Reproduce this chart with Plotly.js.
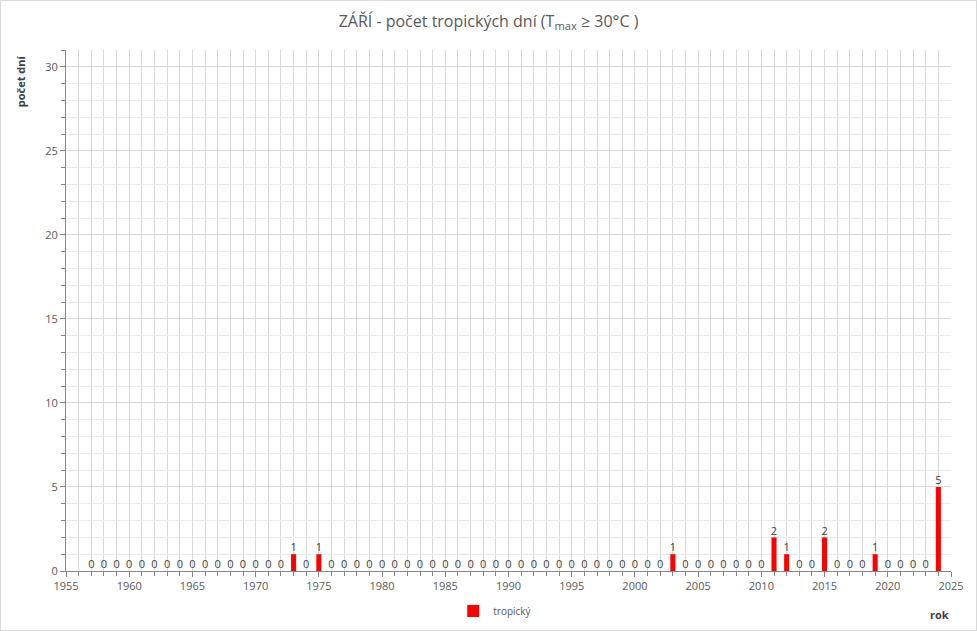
<!DOCTYPE html>
<html>
<head>
<meta charset="utf-8">
<script src="https://cdn.plot.ly/plotly-3.0.1.min.js"></script>
<style>
html,body{margin:0;padding:0;background:#fff;}
#chart{width:977px;height:631px;box-sizing:border-box;border:1px solid #d9d9d9;}
</style>
</head>
<body>
<div id="chart"></div>
<script>
const years = [1957,1958,1959,1960,1961,1962,1963,1964,1965,1966,1967,1968,1969,1970,1971,1972,1973,1974,1975,1976,1977,1978,1979,1980,1981,1982,1983,1984,1985,1986,1987,1988,1989,1990,1991,1992,1993,1994,1995,1996,1997,1998,1999,2000,2001,2002,2003,2004,2005,2006,2007,2008,2009,2010,2011,2012,2013,2014,2015,2016,2017,2018,2019,2020,2021,2022,2023,2024];
const tropicalDays = [0,0,0,0,0,0,0,0,0,0,0,0,0,0,0,0,1,0,1,0,0,0,0,0,0,0,0,0,0,0,0,0,0,0,0,0,0,0,0,0,0,0,0,0,0,0,1,0,0,0,0,0,0,0,2,1,0,0,2,0,0,0,1,0,0,0,0,5];
const seriesName = "tropický";
const titleText = "ZÁŘÍ - počet tropických dní (T<sub>max</sub> ≥ 30°C )";
const yTitle = "počet dní";
const xTitle = "rok";

const fontFam = "'Open Sans', 'Liberation Sans', sans-serif";
const txtCol = "#595959";

const traces = [
  {type:'bar', x:years, y:tropicalDays, name:seriesName, width:0.4,
   marker:{color:'#ff0000'}, hoverinfo:'x+y'},
  {type:'scatter', mode:'text', x:years, y:tropicalDays, text:tropicalDays.map(String),
   textposition:'top center', textfont:{family:fontFam, size:11, color:'#404040'},
   showlegend:false, hoverinfo:'skip', cliponaxis:false}
];

const layout = {
  width:975, height:629,
  margin:{l:65, r:25, t:49, b:59, autoexpand:false},
  paper_bgcolor:'#ffffff', plot_bgcolor:'#ffffff',
  font:{family:fontFam, color:txtCol, size:11},
  title:{text:titleText, x:0.5, xanchor:'center', y:0.968, yanchor:'middle', automargin:false,
         font:{family:fontFam, size:16, color:txtCol}},
  xaxis:{range:[1955,2025], tick0:1955, dtick:5, showgrid:true, gridcolor:'#d9d9d9', gridwidth:1,
         showline:true, linecolor:'#868686', linewidth:1, ticks:'outside', ticklen:5, tickcolor:'#868686',
         tickfont:{size:11, color:txtCol}, zeroline:false, automargin:false,
         minor:{dtick:1, tick0:1955, showgrid:true, gridcolor:'#d9d9d9', ticks:'outside', ticklen:4, tickcolor:'#868686'}},
  yaxis:{range:[0,31], tick0:0, dtick:5, showgrid:true, gridcolor:'#d9d9d9', gridwidth:1,
         showline:true, linecolor:'#868686', linewidth:1, ticks:'outside', ticklen:5, tickcolor:'#868686',
         tickfont:{size:11, color:txtCol}, zeroline:false, automargin:false,
         minor:{dtick:1, showgrid:true, gridcolor:'#ececec', ticks:'outside', ticklen:4, tickcolor:'#868686'}},
  showlegend:true,
  legend:{orientation:'h', x:0.485, xanchor:'center', y:-0.077, yanchor:'middle',
          font:{size:10, color:txtCol}, itemwidth:30, traceorder:'normal'},
  annotations:[
    {text:'<b>'+xTitle+'</b>', xref:'paper', yref:'paper', x:0.987, y:-0.083, xanchor:'center', yanchor:'middle',
     showarrow:false, font:{size:11, color:'#404040'}},
    {text:'<b>'+yTitle+'</b>', xref:'paper', yref:'paper', x:-0.052, y:0.94, xanchor:'center', yanchor:'middle',
     textangle:-90, showarrow:false, font:{size:11, color:'#404040'}}
  ]
};

Plotly.newPlot('chart', traces, layout, {displayModeBar:false, staticPlot:true});
</script>
</body>
</html>
